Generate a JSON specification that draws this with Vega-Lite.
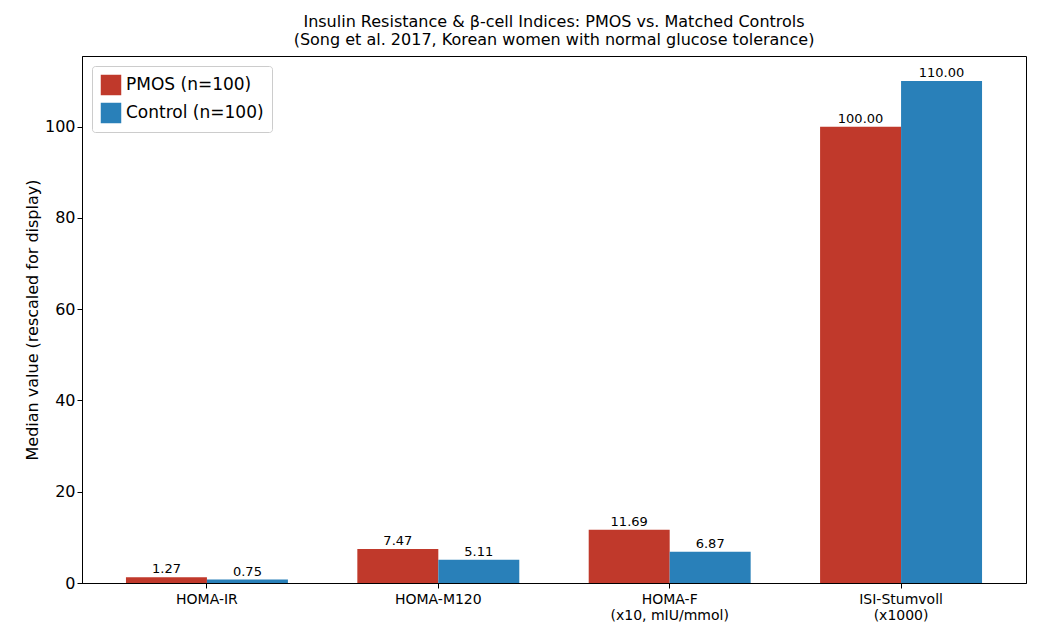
{
  "$schema": "https://vega.github.io/schema/vega-lite/v6.json",
  "width": 1038,
  "height": 642,
  "autosize": {"type": "fit", "contains": "padding"},
  "padding": {"left": 24, "right": 12, "top": 14, "bottom": 20},
  "background": "#ffffff",
  "title": {
    "text": ["Insulin Resistance & β-cell Indices: PMOS vs. Matched Controls", "(Song et al. 2017, Korean women with normal glucose tolerance)"],
    "fontSize": 16,
    "fontWeight": "normal",
    "font": "DejaVu Sans",
    "color": "#000000",
    "offset": 8
  },
  "data": {
    "values": [
      {"cat": "HOMA-IR", "group": "PMOS (n=100)", "value": 1.27},
      {"cat": "HOMA-IR", "group": "Control (n=100)", "value": 0.75},
      {"cat": "HOMA-M120", "group": "PMOS (n=100)", "value": 7.47},
      {"cat": "HOMA-M120", "group": "Control (n=100)", "value": 5.11},
      {"cat": "HOMA-F|(x10, mIU/mmol)", "group": "PMOS (n=100)", "value": 11.69},
      {"cat": "HOMA-F|(x10, mIU/mmol)", "group": "Control (n=100)", "value": 6.87},
      {"cat": "ISI-Stumvoll|(x1000)", "group": "PMOS (n=100)", "value": 100.0},
      {"cat": "ISI-Stumvoll|(x1000)", "group": "Control (n=100)", "value": 110.0}
    ]
  },
  "encoding": {
    "x": {
      "field": "cat",
      "type": "nominal",
      "sort": null,
      "scale": {"paddingInner": 0.3, "paddingOuter": 0.19},
      "axis": {"title": null, "labelAngle": 0, "labelExpr": "split(datum.label, '|')", "labelFontSize": 14, "labelPadding": 4}
    },
    "xOffset": {"field": "group", "type": "nominal", "sort": ["PMOS (n=100)", "Control (n=100)"]},
    "y": {
      "field": "value",
      "type": "quantitative",
      "scale": {"domain": [0, 115.5], "nice": false},
      "axis": {"title": "Median value (rescaled for display)", "titleFontSize": 16, "titleFontWeight": "normal", "labelFontSize": 16, "grid": false, "values": [0, 20, 40, 60, 80, 100]}
    }
  },
  "layer": [
    {
      "mark": {"type": "bar"},
      "encoding": {
        "color": {
          "field": "group",
          "type": "nominal",
          "sort": ["PMOS (n=100)", "Control (n=100)"],
          "scale": {"range": ["#c0392b", "#2980b9"]},
          "legend": {
            "title": null,
            "orient": "top-left",
            "offset": 10,
            "labelFontSize": 17,
            "symbolType": "square",
            "symbolSize": 420,
            "strokeColor": "#cccccc",
            "fillColor": "#ffffff",
            "padding": 8,
            "cornerRadius": 3,
            "rowPadding": 6
          }
        }
      }
    },
    {
      "mark": {"type": "text", "dy": -8, "fontSize": 13, "color": "#000000"},
      "encoding": {"text": {"field": "value", "type": "quantitative", "format": ".2f"}}
    }
  ],
  "config": {
    "font": "DejaVu Sans",
    "view": {"stroke": "#000000", "strokeWidth": 1},
    "axis": {"domainColor": "#000000", "tickColor": "#000000", "labelColor": "#000000", "titleColor": "#000000"}
  }
}
